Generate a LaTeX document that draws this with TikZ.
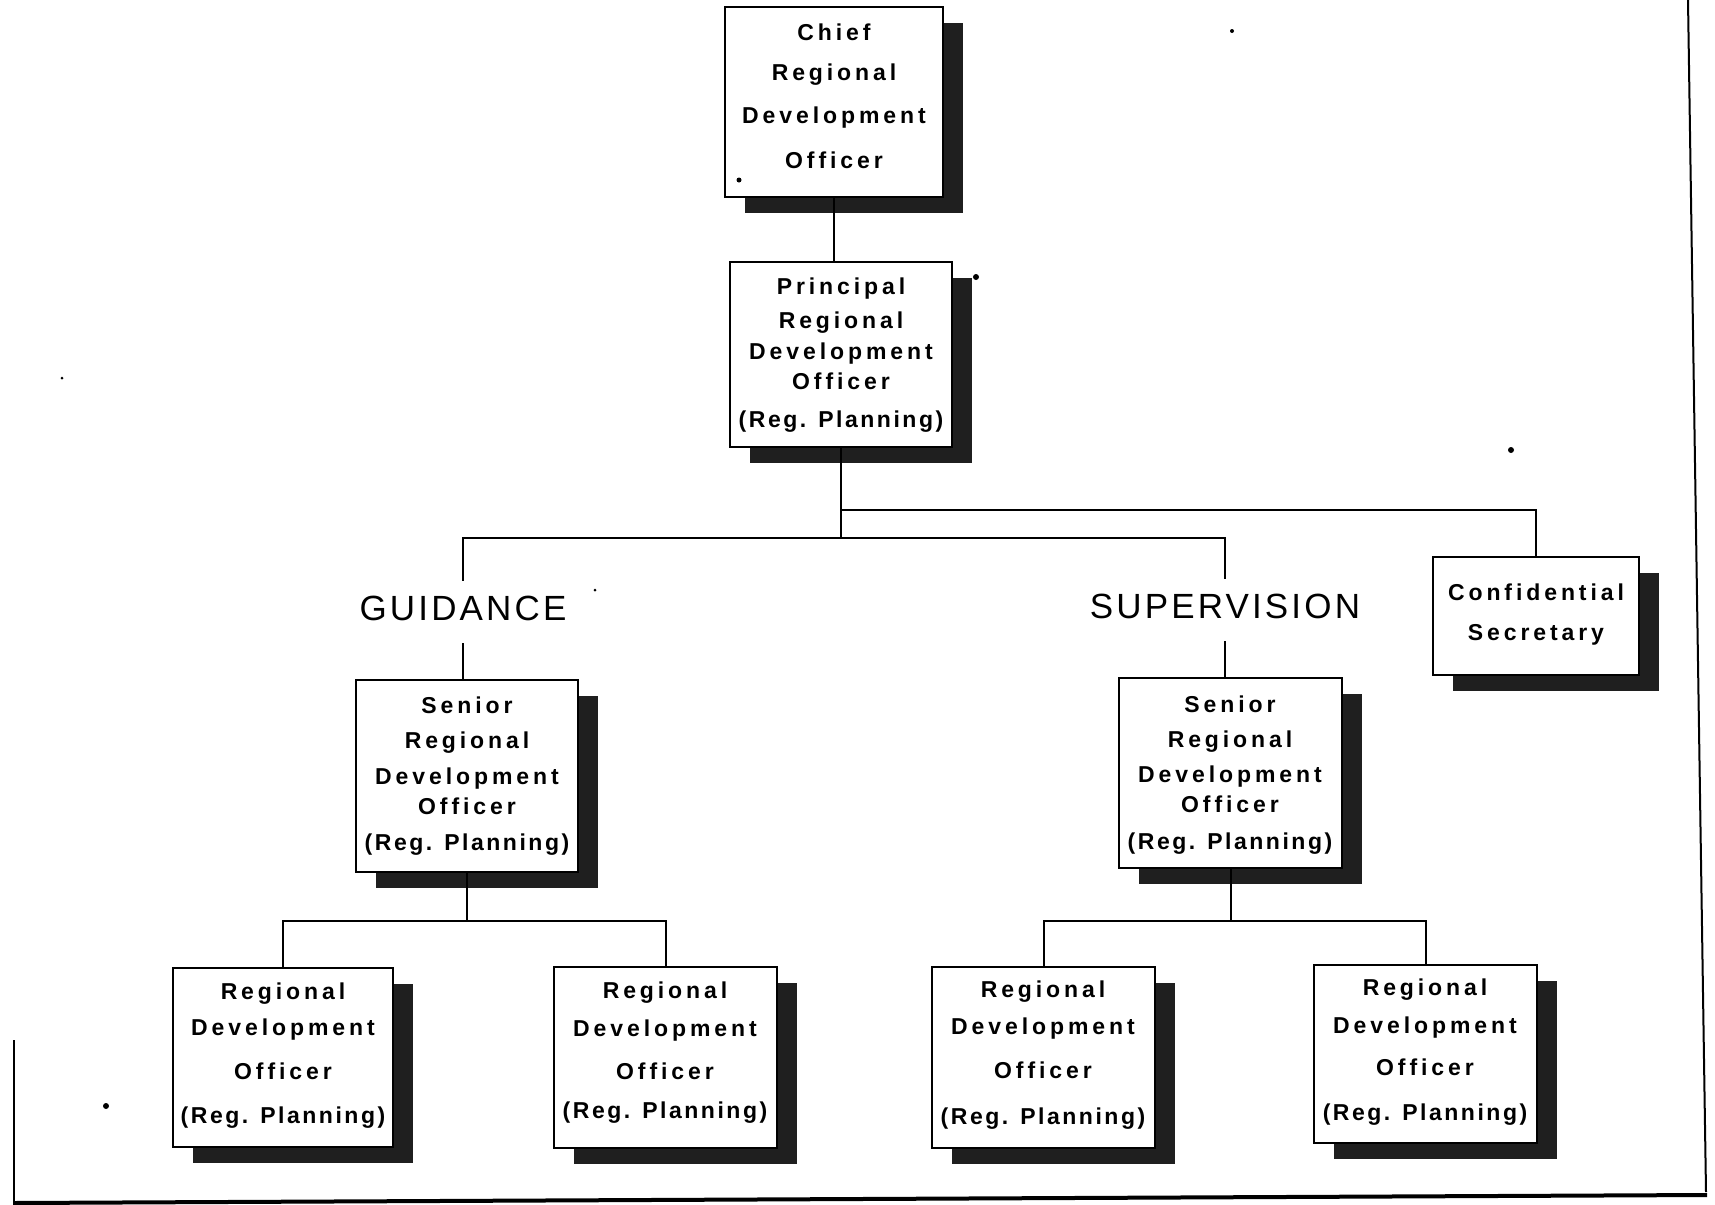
\documentclass[tikz,border=0pt]{standalone}
\usepackage{fontspec}
\usetikzlibrary{shadows}
\newfontfamily\boxfont[LetterSpace=17]{Liberation Sans}
\newfontfamily\regfont[LetterSpace=11]{Liberation Sans}
\newfontfamily\headfont[LetterSpace=9]{Liberation Sans}
\newcommand\regp{{\regfont (Reg. Planning)}}
% one text line per node, named <box>-1, <box>-2, ...
\newcommand\boxtext[3]{%
  \foreach \orgY/\orgT [count=\orgN] in {#3}
    \node[txt] (#1-\orgN) at (#2,\orgY) {\orgT};}

\begin{document}
\begin{tikzpicture}[x=0.5pt,y=-0.5pt,
  box/.style={draw=black, line width=1.1pt, fill=white, inner sep=0pt,
    drop shadow={shadow xshift=10pt, shadow yshift=-8pt, fill=black!88, opacity=1}},
  txt/.style={anchor=base, inner sep=0pt,
    font=\boxfont\bfseries\fontsize{11.5pt}{13pt}\selectfont},
  head/.style={anchor=base, inner xsep=0pt, inner ysep=7.5pt,
    text height=12pt, text depth=4pt,
    font=\headfont\fontsize{17.5pt}{20pt}\selectfont},
  link/.style={draw=black, line width=1pt},
  edge/.style={draw=black, line width=1pt},
  speck/.style={fill=black}]

\useasboundingbox (0,0) rectangle (1715,1205);
\fill[white] (0,0) rectangle (1715,1205);
\clip (0,0) rectangle (1715,1205);

% page edges
\draw[edge] (1688,0) -- (1706,1192);
\draw[edge, line width=2pt] (1707,1195) -- (14,1203);
\draw[edge] (14,1040) -- (14,1205);

% boxes
\node[box, minimum width=109pt,   minimum height=95pt]   (chief)     at (834,102)     {};
\node[box, minimum width=111pt,   minimum height=92.5pt] (principal) at (841,354.5)   {};
\node[box, minimum width=103pt,   minimum height=59pt]   (sec)       at (1536,616)    {};
\node[box, minimum width=111pt,   minimum height=96pt]   (seniorL)   at (467,776)     {};
\node[box, minimum width=111.5pt, minimum height=95pt]   (seniorR)   at (1230.5,773)  {};
\node[box, minimum width=110pt,   minimum height=89.5pt] (rdoA)      at (283,1057.5)  {};
\node[box, minimum width=111.5pt, minimum height=90.5pt] (rdoB)      at (665.5,1057.5){};
\node[box, minimum width=111.5pt, minimum height=90.5pt] (rdoC)      at (1043.5,1057.5){};
\node[box, minimum width=111.5pt, minimum height=89pt]   (rdoD)      at (1425.5,1054) {};

% box texts
\boxtext{chief}{834}{40/Chief, 80/Regional, 123/Development, 168/Officer}
\boxtext{principal}{841}{294/Principal, 328/Regional, 359/Development, 389/Officer, 427/\regp}
\boxtext{sec}{1536}{600/Confidential, 640/Secretary}
\boxtext{seniorL}{467}{713/Senior, 748/Regional, 784/Development, 814/Officer, 850/\regp}
\boxtext{seniorR}{1230}{712/Senior, 747/Regional, 782/Development, 812/Officer, 849/\regp}
\boxtext{rdoA}{283}{999/Regional, 1035/Development, 1079/Officer, 1123/\regp}
\boxtext{rdoB}{665}{998/Regional, 1036/Development, 1079/Officer, 1118/\regp}
\boxtext{rdoC}{1043}{997/Regional, 1034/Development, 1078/Officer, 1124/\regp}
\boxtext{rdoD}{1425}{995/Regional, 1033/Development, 1075/Officer, 1120/\regp}

% branch headings
\node[head] (guid) at (463,620)  {GUIDANCE};
\node[head] (sup)  at (1225,618) {SUPERVISION};

% bus levels
\coordinate (tapy)  at (0,510);
\coordinate (busy)  at (0,538);
\coordinate (lowy)  at (0,921);
\coordinate (tap)   at (principal.south |- tapy);
\coordinate (bus)   at (principal.south |- busy);
\coordinate (busL)  at (seniorL.south |- lowy);
\coordinate (busR)  at (seniorR.south |- lowy);

% connectors
\draw[link] (chief.south) -- (chief.south |- principal.north);
\draw[link] (principal.south) -- (bus);
\draw[link] (tap) -| (sec.north);
\draw[link] (guid.north) |- (bus) -| (sup.north);
\draw[link] (guid.south) -- (guid.south |- seniorL.north);
\draw[link] (sup.south) -- (sup.south |- seniorR.north);
\draw[link] (seniorL.south) -- (busL);
\draw[link] (rdoA.north) |- (busL) -| (rdoB.north);
\draw[link] (seniorR.south) -- (busR);
\draw[link] (rdoC.north) |- (busR) -| (rdoD.north);

% specks
\fill[speck] (1232,31) circle (2);
\fill[speck] (976,277) circle (3);
\fill[speck] (1511,450) circle (3);
\fill[speck] (106,1106) circle (3);
\fill[speck] (62,378) circle (1.5);
\fill[speck] (739,180) circle (2.5);
\fill[speck] (595,590) circle (1.5);
\end{tikzpicture}
\end{document}
